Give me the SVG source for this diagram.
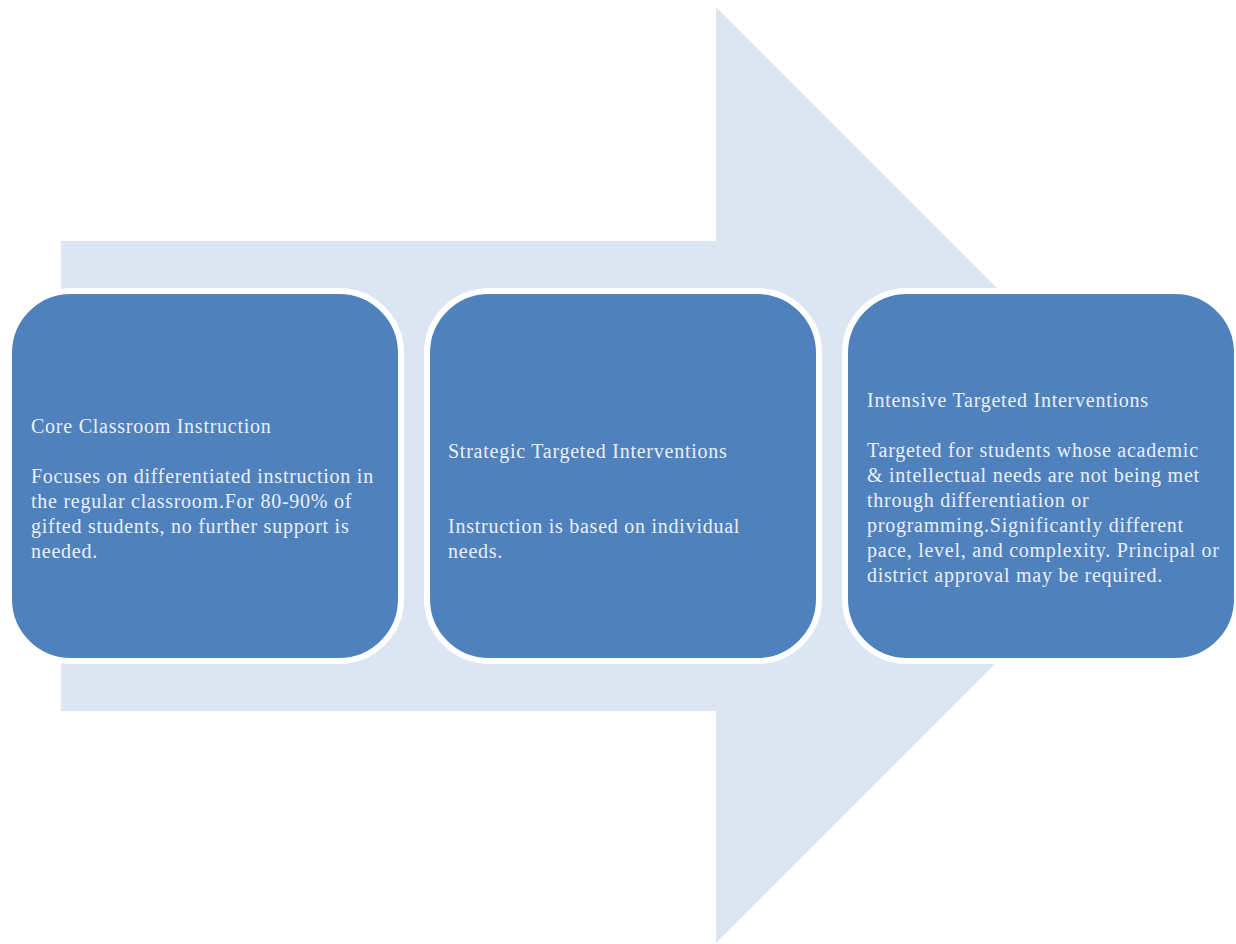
<svg xmlns="http://www.w3.org/2000/svg" width="1236" height="944" viewBox="0 0 1236 944">
<style>
.arrow{fill:#dce6f2}
.box{fill:#4f81bd;stroke:#ffffff;stroke-width:6}
.t{font-family:"Liberation Serif","Times New Roman",serif;font-size:20px;letter-spacing:0.75px;fill:#e9eff7}
</style>
<rect width="1236" height="944" fill="#ffffff"/>
<g id="bg-arrow">
<polygon class="arrow" points="61,241 716,241 716,7 1184,475 716,943 716,711 61,711"/>
</g>
<g id="connectors"></g>
<g id="node1">
<rect class="box" x="9" y="291" width="392" height="370" rx="62" ry="62"/>
<text class="t" x="31" y="433">Core Classroom Instruction</text>
<text class="t" x="31" y="483">Focuses on differentiated instruction in</text>
<text class="t" x="31" y="508">the regular classroom.For 80-90% of</text>
<text class="t" x="31" y="533">gifted students, no further support is</text>
<text class="t" x="31" y="558">needed.</text>
</g>
<g id="node2">
<rect class="box" x="427" y="291" width="392" height="370" rx="62" ry="62"/>
<text class="t" x="448" y="458">Strategic Targeted Interventions</text>
<text class="t" x="448" y="533">Instruction is based on individual</text>
<text class="t" x="448" y="558">needs.</text>
</g>
<g id="node3">
<rect class="box" x="845" y="291" width="392" height="370" rx="62" ry="62"/>
<text class="t" x="867" y="407">Intensive Targeted Interventions</text>
<text class="t" x="867" y="457">Targeted for students whose academic</text>
<text class="t" x="867" y="482">&amp; intellectual needs are not being met</text>
<text class="t" x="867" y="507">through differentiation or</text>
<text class="t" x="867" y="532">programming.Significantly different</text>
<text class="t" x="867" y="557">pace, level, and complexity. Principal or</text>
<text class="t" x="867" y="582">district approval may be required.</text>
</g>
</svg>
